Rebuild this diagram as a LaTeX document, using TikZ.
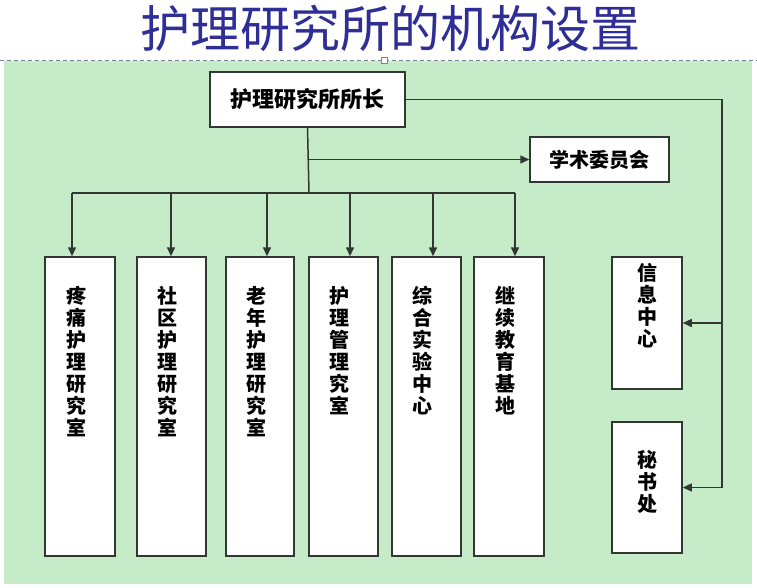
\documentclass[tikz,border=0pt]{standalone}
\usepackage{fontspec}
\newfontfamily\cjk{Noto Sans CJK SC}
\usetikzlibrary{arrows.meta}
\definecolor{bggreen}{RGB}{198,235,201}
\definecolor{titleblue}{RGB}{46,46,150}
\definecolor{linegray}{RGB}{50,55,50}
\definecolor{dashgray}{RGB}{120,135,150}
\tikzset{
  box/.style={draw=linegray, line width=1.5pt, fill=white, inner sep=0pt},
  vlab/.style={font=\cjk\bfseries\fontsize{20}{22}\selectfont, align=center, inner sep=0pt, anchor=north, text=black},
  hlab/.style={font=\cjk\bfseries\fontsize{20}{22}\selectfont, text=black},
  conn/.style={draw=linegray, line width=1.5pt},
  arr/.style={conn, -{Triangle[length=9pt,width=8pt]}},
}
\begin{document}
\begin{tikzpicture}[x=1pt,y=-1pt]
\useasboundingbox (0,0) rectangle (757,587);
\fill[white] (0,0) rectangle (757,587);
% title
\node[font=\cjk\fontsize{50}{50}\selectfont, text=titleblue, inner sep=0pt] (title) at (390,28) {护理研究所的机构设置};
% background panel
\fill[bggreen] (4,61) rectangle (752,584);
\draw[dashgray, line width=1pt, dash pattern=on 4pt off 3pt] (0,60) -- (757,60);
\node[draw=dashgray, fill=white, line width=0.8pt, minimum size=6pt, inner sep=0pt] (handle) at (384,60) {};
% top box
\node[box, minimum width=195, minimum height=55] (dir) at (307.5,99.5) {};
\node[hlab, font=\cjk\bfseries\fontsize{22}{22}\selectfont] (dirt) at (dir.center) {护理研究所所长};
% academic committee
\node[box, minimum width=139, minimum height=45] (acad) at (599.5,159.5) {};
\node[hlab] (acadt) at (acad.center) {学术委员会};
% six research boxes
\node[box, minimum width=70, minimum height=299] (b1) at (80,406.5) {};
\node[box, minimum width=69, minimum height=299] (b2) at (171.5,406.5) {};
\node[box, minimum width=68, minimum height=299] (b3) at (260,406.5) {};
\node[box, minimum width=69, minimum height=299] (b4) at (343.5,406.5) {};
\node[box, minimum width=69, minimum height=299] (b5) at (426.5,406.5) {};
\node[box, minimum width=70, minimum height=299] (b6) at (509,406.5) {};
\node[vlab] (t1) at ([xshift=-4pt,yshift=-30pt]b1.north) {疼\\痛\\护\\理\\研\\究\\室};
\node[vlab] (t2) at ([xshift=-4pt,yshift=-30pt]b2.north) {社\\区\\护\\理\\研\\究\\室};
\node[vlab] (t3) at ([xshift=-4pt,yshift=-30pt]b3.north) {老\\年\\护\\理\\研\\究\\室};
\node[vlab] (t4) at ([xshift=-4pt,yshift=-30pt]b4.north) {护\\理\\管\\理\\究\\室};
\node[vlab] (t5) at ([xshift=-4pt,yshift=-30pt]b5.north) {综\\合\\实\\验\\中\\心};
\node[vlab] (t6) at ([xshift=-4pt,yshift=-30pt]b6.north) {继\\续\\教\\育\\基\\地};
% right side boxes
\node[box, minimum width=70, minimum height=132] (info) at (647,323) {};
\node[vlab] (tinfo) at ([yshift=-7pt]info.north) {信\\息\\中\\心};
\node[box, minimum width=70, minimum height=131] (secr) at (647,487.5) {};
\node[vlab] (tsecr) at ([yshift=-29pt]secr.north) {秘\\书\\处};
% connector coordinates
\coordinate (rx) at (722,0);
\coordinate (bus) at (309,193);
\coordinate (a1) at (72,193);
\coordinate (a2) at (171,193);
\coordinate (a3) at (267,193);
\coordinate (a4) at (350,193);
\coordinate (a5) at (433,193);
\coordinate (a6) at (515,193);
% connectors
\draw[conn] (dir.east) -| (rx |- secr.east);
\draw[arr] (rx |- info.east) -- (info.east);
\draw[arr] (rx |- secr.east) -- (secr.east);
\draw[conn] (dir.south) -- (bus);
\draw[arr] (dir.south |- acad.west) -- (acad.west);
\draw[conn] (a1) -- (a6);
\draw[arr] (a1) -- (a1 |- b1.north);
\draw[arr] (a2) -- (a2 |- b2.north);
\draw[arr] (a3) -- (a3 |- b3.north);
\draw[arr] (a4) -- (a4 |- b4.north);
\draw[arr] (a5) -- (a5 |- b5.north);
\draw[arr] (a6) -- (a6 |- b6.north);
\end{tikzpicture}
\end{document}
